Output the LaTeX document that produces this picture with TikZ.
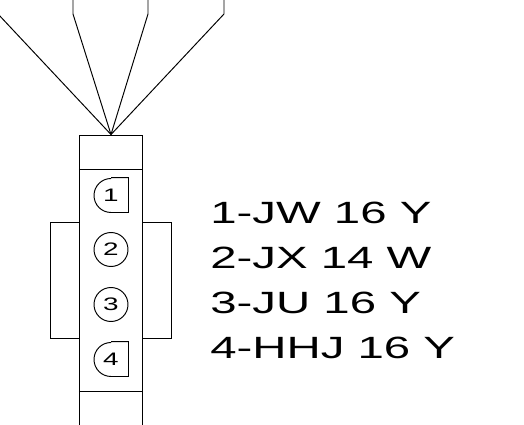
\documentclass[tikz,border=0pt]{standalone}
\usepackage{fontspec}
\newfontfamily\widefont[FakeStretch=1.54]{Liberation Sans}
\tikzset{
  conn/.style={draw, rectangle, line width=.55pt, inner sep=0pt},
  pinhole/.style={circle, line width=.55pt, inner sep=0pt, minimum size=.68cm, font=\widefont\fontsize{10.3}{12}\selectfont},
  wire/.style={line width=.55pt},
  pinout/.style={anchor=base west, inner sep=0pt, font=\widefont\fontsize{17.5}{21}\selectfont},
}
\begin{document}
\begin{tikzpicture}
\useasboundingbox (-2.22,-2.94) rectangle (8.26,5.54);
\node[conn, minimum width=1.27cm, minimum height=5.94cm, yshift=-0.13cm] (body) {};
\node[conn, minimum width=.58cm, minimum height=2.32cm, xshift=-0.925cm, yshift=-0.06cm] (earl) {};
\node[conn, minimum width=.58cm, minimum height=2.32cm, xshift=+0.925cm, yshift=-0.06cm] (earr) {};
\draw [wire] ([yshift=-0.70cm] body.north west) -- ([yshift=-0.70cm] body.north east);
\draw [wire] ([yshift=+0.82cm] body.south west) -- ([yshift=+0.82cm] body.south east);
% pins
\node[pinhole, yshift=+1.64cm] (p1) {1};
\node[pinhole, draw, yshift=+0.55cm] (p2) {2};
\node[pinhole, draw, yshift=-0.55cm] (p3) {3};
\node[pinhole, yshift=-1.64cm] (p4) {4};
\draw [wire] (p1.north) -- (p1.north -| p1.east) -- (p1.south -| p1.east) -- (p1.south) arc[start angle=270, end angle=90, radius=.34cm];
\draw [wire] (p4.north) -- (p4.north -| p4.east) -- (p4.south -| p4.east) -- (p4.south) arc[start angle=270, end angle=90, radius=.34cm];
% wires
\coordinate (w1) at (-2.26,5.26);
\coordinate (w2) at (-0.76,5.26);
\coordinate (w3) at (0.74,5.26);
\coordinate (w4) at (2.26,5.26);
\draw [wire] (body.north) -- (w1) -- ++(0,0.4);
\draw [wire] (body.north) -- (w2) -- ++(0,0.4);
\draw [wire] (body.north) -- (w3) -- ++(0,0.4);
\draw [wire] (body.north) -- (w4) -- ++(0,0.4);
% pinout text
\node[pinout, xshift=+1.98cm, yshift=+1.08cm] (t1) {1-JW 16 Y};
\node[pinout, xshift=+1.98cm, yshift=+0.18cm] (t2) {2-JX 14 W};
\node[pinout, xshift=+1.98cm, yshift=-0.72cm] (t3) {3-JU 16 Y};
\node[pinout, xshift=+1.98cm, yshift=-1.62cm] (t4) {4-HHJ 16 Y};
\end{tikzpicture}
\end{document}
